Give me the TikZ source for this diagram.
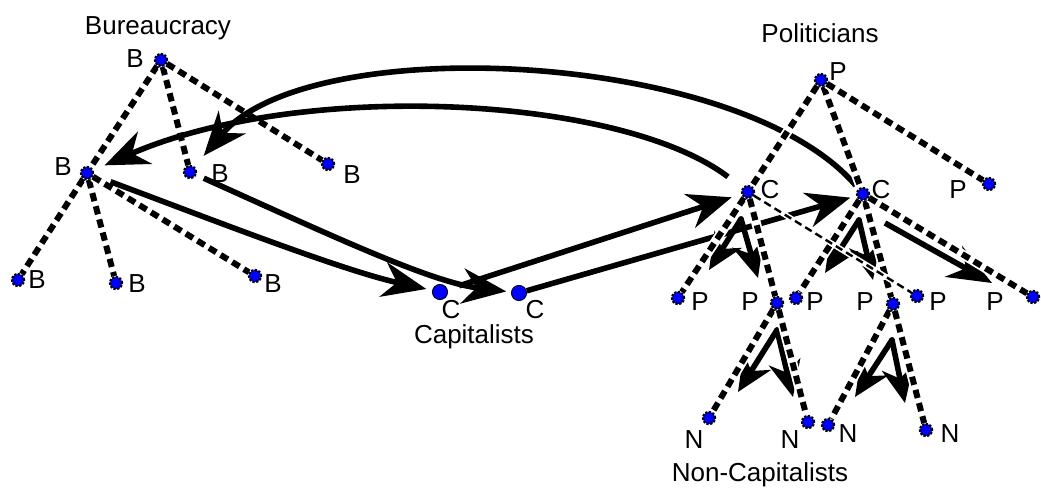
\documentclass[tikz,border=0pt]{standalone}
\usepackage{fontspec}
\setmainfont{Liberation Sans}
\usetikzlibrary{arrows.meta}

\pgfdeclarelayer{lines}
\pgfsetlayers{lines,main}

\tikzset{
  dot/.style={circle, fill=blue, draw=black, densely dotted, line width=1.6pt, inner sep=0pt, minimum size=0.3cm},
  capdot/.style={circle, fill=blue, draw=black, line width=0.6pt, inner sep=0pt, minimum size=0.38cm},
  txt/.style={anchor=base, inner sep=0pt, font=\fontsize{18.5}{22}\selectfont},
  link/.style={line width=0.15cm, dash pattern=on 0.21cm off 0.13cm, preaction={draw=white, solid, line width=0.24cm}},
  thinlink/.style={line width=0.06cm, dash pattern=on 0.19cm off 0.11cm, preaction={draw=white, solid, line width=0.14cm}},
  flow/.style={line width=0.14cm, -{Stealth[length=1.1cm, width=0.88cm, inset=0.35cm]}},
  vflow/.style={line width=0.14cm, line cap=round, -{Stealth[length=0.9cm, width=0.8cm, inset=0.28cm]}}
}

\begin{document}
\begin{tikzpicture}[x=0.025cm, y=-0.025cm]
    \useasboundingbox (0,0) rectangle (1041,488);

    % Bureaucracy
    \node[txt] (bur) at (158,34) {Bureaucracy};
    \node[dot] (bt) at (161,60) {};
    \node[dot] (bml) at (87,173) {};
    \node[dot] (bm) at (190,172) {};
    \node[dot] (br) at (328,164) {};
    \node[dot] (bbl) at (18,280) {};
    \node[dot] (bbm) at (116,283) {};
    \node[dot] (bbr) at (255,276) {};
    \node[txt] (lbt) at (135,67) {B};
    \node[txt] (lbml) at (63,175) {B};
    \node[txt] (lbm) at (220,182) {B};
    \node[txt] (lbr) at (352,183) {B};
    \node[txt] (lbbl) at (37,288) {B};
    \node[txt] (lbbm) at (137,292) {B};
    \node[txt] (lbbr) at (273,292) {B};

    % Capitalists
    \node[capdot] (cl) at (440,292) {};
    \node[capdot] (cr) at (519,293) {};
    \node[txt] (lcl) at (451,318) {C};
    \node[txt] (lcr) at (535,318) {C};
    \node[txt] (cap) at (474,343) {Capitalists};

    % Politicians
    \node[txt] (pol) at (820,42) {Politicians};
    \node[dot] (pt) at (821,80) {};
    \node[dot] (c1) at (748,192) {};
    \node[dot] (c2) at (863,194) {};
    \node[dot] (pr) at (989,184) {};
    \node[dot] (pa) at (678,298) {};
    \node[dot] (pb) at (777,303) {};
    \node[dot] (pc) at (796,298) {};
    \node[dot] (pd) at (893,304) {};
    \node[dot] (pe) at (917,296) {};
    \node[dot] (pf) at (1033,297) {};
    \node[txt] (lpt) at (838,80) {P};
    \node[txt] (lc1) at (770,198) {C};
    \node[txt] (lc2) at (881,198) {C};
    \node[txt] (lpr) at (958,198) {P};
    \node[txt] (lpa) at (700,310) {P};
    \node[txt] (lpb) at (750,310) {P};
    \node[txt] (lpc) at (815,310) {P};
    \node[txt] (lpd) at (865,310) {P};
    \node[txt] (lpe) at (938,310) {P};
    \node[txt] (lpf) at (995,310) {P};

    % Non-Capitalists
    \node[dot] (n1) at (709,418) {};
    \node[dot] (n2) at (808,422) {};
    \node[dot] (n3) at (828,425) {};
    \node[dot] (n4) at (926,430) {};
    \node[txt] (ln1) at (694,448) {N};
    \node[txt] (ln2) at (790,448) {N};
    \node[txt] (ln3) at (848,442) {N};
    \node[txt] (ln4) at (950,442) {N};
    \node[txt] (noncap) at (760,481) {Non-Capitalists};

    % free ends of the short arrows
    \coordinate (v1) at (741,219);
    \coordinate (v1a) at (709,270);
    \coordinate (v1b) at (758,278);
    \coordinate (v2) at (859,220);
    \coordinate (v2a) at (825,273);
    \coordinate (v2b) at (873,280);
    \coordinate (v3) at (777,330);
    \coordinate (v3a) at (738,392);
    \coordinate (v3b) at (793,397);
    \coordinate (v4) at (892,340);
    \coordinate (v4a) at (855,397);
    \coordinate (v4b) at (905,403);
    \coordinate (w0) at (885,223);
    \coordinate (w1) at (992,283);

    \begin{pgfonlayer}{lines}
        % bureaucracy tree
        \draw[link] (bt) -- (bml);
        \draw[link] (bml) -- (bbl);
        \draw[link] (bt) -- (bm);
        \draw[link] (bt) -- (br);
        \draw[link] (bml) -- (bbm);
        \draw[link] (bml) -- (bbr);

        % flows
        \draw[flow, shorten <=0.45cm, shorten >=0.3cm] (c1) .. controls (620,95) and (300,80) .. (bml);
        \draw[flow, shorten <=0.1cm, shorten >=0.35cm] (c2) .. controls (740,50) and (310,30) .. (bm);
        \draw[flow, shorten <=0.45cm, shorten >=0.15cm] (bml) .. controls (200,215) and (340,270) .. (cl);
        \draw[flow, shorten <=0.2cm, shorten >=0.12cm] (bm) .. controls (330,235) and (430,282) .. (cr);
        \draw[flow, shorten <=0.3cm, shorten >=0.25cm] (cl) -- (c1);
        \draw[flow, shorten >=0.15cm] (cr) -- (c2);
        \draw[vflow] (v1) -- (v1a);
        \draw[vflow] (v1) -- (v1b);
        \draw[vflow] (v2) -- (v2a);
        \draw[vflow] (v2) -- (v2b);
        \draw[vflow] (v3) -- (v3a);
        \draw[vflow] (v3) -- (v3b);
        \draw[vflow] (v4) -- (v4a);
        \draw[vflow] (v4) -- (v4b);
        \draw[flow] (w0) -- (w1);

        % politicians tree
        \draw[link] (pt) -- (c1);
        \draw[link] (c1) -- (pa);
        \draw[link] (pt) -- (c2);
        \draw[link] (c2) -- (pd);
        \draw[link] (pt) -- (pr);
        \draw[link] (c1) -- (pb);
        \draw[link] (c2) -- (pc);
        \draw[link] (c2) -- (pf);
        \draw[thinlink] (c1) -- (pe);
        \draw[link] (pb) -- (n1);
        \draw[link] (pb) -- (n2);
        \draw[link] (pd) -- (n3);
        \draw[link] (pd) -- (n4);
    \end{pgfonlayer}
\end{tikzpicture}
\end{document}
